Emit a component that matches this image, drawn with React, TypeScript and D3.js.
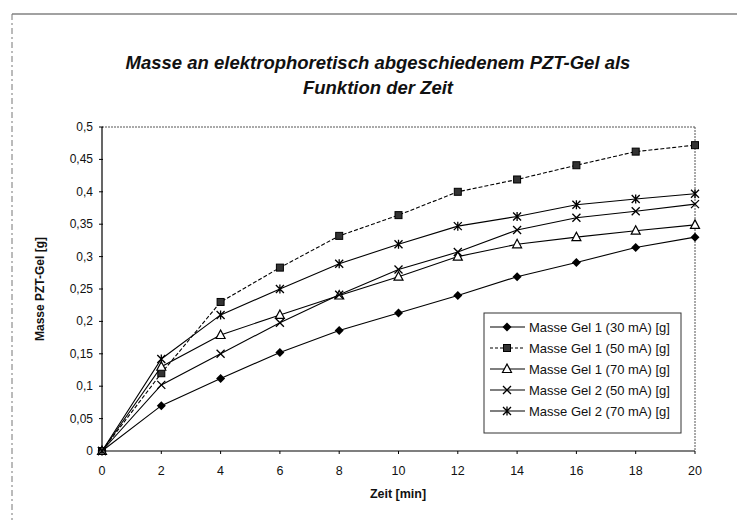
import React from "react";
import * as d3 from "d3";

// Zeit in Minuten
const zeit = [0, 2, 4, 6, 8, 10, 12, 14, 16, 18, 20];

// Masse in Gramm je Versuchsreihe
const gel1_30 = [0, 0.07, 0.112, 0.152, 0.186, 0.213, 0.24, 0.269, 0.291, 0.314, 0.33];
const gel1_50 = [0, 0.12, 0.23, 0.283, 0.332, 0.364, 0.4, 0.419, 0.441, 0.462, 0.472];
const gel1_70 = [0, 0.13, 0.179, 0.21, 0.24, 0.269, 0.3, 0.319, 0.33, 0.34, 0.349];
const gel2_50 = [0, 0.102, 0.15, 0.198, 0.241, 0.28, 0.307, 0.341, 0.36, 0.37, 0.381];
const gel2_70 = [0, 0.142, 0.21, 0.25, 0.289, 0.319, 0.347, 0.362, 0.38, 0.389, 0.397];

const seriesNames = [
  "Masse Gel 1 (30 mA) [g]",
  "Masse Gel 1 (50 mA) [g]",
  "Masse Gel 1 (70 mA) [g]",
  "Masse Gel 2 (50 mA) [g]",
  "Masse Gel 2 (70 mA) [g]",
];
const seriesValues = [gel1_30, gel1_50, gel1_70, gel2_50, gel2_70];
const markerTypes = ["diamond", "square", "triangle", "x", "star"];
const dashed = [false, true, false, false, false];

const yTicks = [0, 0.05, 0.1, 0.15, 0.2, 0.25, 0.3, 0.35, 0.4, 0.45, 0.5];
const xTicks = [0, 2, 4, 6, 8, 10, 12, 14, 16, 18, 20];

const W = 737;
const H = 532;
const plot = { left: 102, right: 695, top: 127, bottom: 451 };

const x = d3.scaleLinear().domain([0, 20]).range([plot.left, plot.right]);
const y = d3.scaleLinear().domain([0, 0.5]).range([plot.bottom, plot.top]);

const fmt = (v: number) => String(+v.toFixed(2)).replace(".", ",");

function Marker({ type, cx, cy }: { type: string; cx: number; cy: number }) {
  switch (type) {
    case "diamond":
      return (
        <path
          d={`M${cx},${cy - 4.5}L${cx + 4.5},${cy}L${cx},${cy + 4.5}L${cx - 4.5},${cy}Z`}
          fill="#000"
        />
      );
    case "square":
      return (
        <rect x={cx - 3.5} y={cy - 3.5} width={7} height={7} fill="#333" stroke="#000" strokeWidth={1} />
      );
    case "triangle":
      return (
        <path
          d={`M${cx},${cy - 5}L${cx + 4.5},${cy + 3.5}L${cx - 4.5},${cy + 3.5}Z`}
          fill="#fff"
          stroke="#000"
          strokeWidth={1.2}
        />
      );
    case "x":
      return (
        <path
          d={`M${cx - 4},${cy - 4}L${cx + 4},${cy + 4}M${cx - 4},${cy + 4}L${cx + 4},${cy - 4}`}
          stroke="#000"
          strokeWidth={1.3}
        />
      );
    default:
      return (
        <path
          d={`M${cx - 4},${cy - 4}L${cx + 4},${cy + 4}M${cx - 4},${cy + 4}L${cx + 4},${cy - 4}M${cx},${cy - 4.5}L${cx},${cy + 4.5}`}
          stroke="#000"
          strokeWidth={1.3}
        />
      );
  }
}

export default function App() {
  const line = d3
    .line<number>()
    .x((_, i) => x(zeit[i]))
    .y((d) => y(d));

  const font = "'Liberation Sans', Arial, sans-serif";
  const legend = { left: 484, top: 313, width: 197, height: 120 };
  const rowY = [327, 348, 369, 390, 411];

  return (
    <svg
      width={W}
      height={H}
      style={{ position: "absolute", left: 0, top: 0, background: "#fff" }}
      fontFamily={font}
    >
      <rect width={W} height={H} fill="#fff" />
      {/* outer frame */}
      <line x1={12} y1={14} x2={737} y2={14} stroke="#444" strokeWidth={1.2} />
      <line x1={12} y1={14} x2={12} y2={520} stroke="#777" strokeWidth={1} strokeDasharray="6,3,2,3" />

      {/* title */}
      <text x={378} y={69} textAnchor="middle" fontSize={18.5} fontWeight="bold" fontStyle="italic" fill="#111">
        Masse an elektrophoretisch abgeschiedenem PZT-Gel als
      </text>
      <text x={378} y={94} textAnchor="middle" fontSize={18.5} fontWeight="bold" fontStyle="italic" fill="#111">
        Funktion der Zeit
      </text>

      {/* plot border */}
      <line x1={plot.left} y1={plot.top} x2={plot.right} y2={plot.top} stroke="#555" strokeDasharray="2,1" />
      <line x1={plot.right} y1={plot.top} x2={plot.right} y2={plot.bottom} stroke="#555" strokeDasharray="2,1" />
      <line x1={plot.left} y1={plot.top} x2={plot.left} y2={plot.bottom} stroke="#000" strokeWidth={1.2} />
      <line x1={plot.left} y1={plot.bottom} x2={plot.right} y2={plot.bottom} stroke="#000" strokeWidth={1.2} />

      {/* y axis */}
      {yTicks.map((t) => (
        <g key={"y" + t}>
          <line x1={plot.left - 3} x2={plot.left + 1} y1={y(t)} y2={y(t)} stroke="#000" />
          <text x={93} y={y(t) + 4} textAnchor="end" fontSize={12} fill="#111">
            {fmt(t)}
          </text>
        </g>
      ))}
      {/* x axis */}
      {xTicks.map((t) => (
        <g key={"x" + t}>
          <line x1={x(t)} x2={x(t)} y1={plot.bottom} y2={plot.bottom + 3} stroke="#000" />
          <text x={x(t)} y={475} textAnchor="middle" fontSize={12.5} fill="#111">
            {t}
          </text>
        </g>
      ))}

      <text
        transform={`translate(44,${(plot.top + plot.bottom) / 2}) rotate(-90)`}
        textAnchor="middle"
        fontSize={12}
        fontWeight="bold"
        fill="#111"
      >
        Masse PZT-Gel [g]
      </text>
      <text x={398} y={498} textAnchor="middle" fontSize={12.5} fontWeight="bold" fill="#111">
        Zeit [min]
      </text>

      {/* series */}
      {seriesValues.map((vals, si) => (
        <g key={"s" + si}>
          <path
            d={line(vals) || ""}
            fill="none"
            stroke="#000"
            strokeWidth={1.1}
            strokeDasharray={dashed[si] ? "4,2" : undefined}
          />
          {vals.map((v, i) => (
            <Marker key={i} type={markerTypes[si]} cx={x(zeit[i])} cy={y(v)} />
          ))}
        </g>
      ))}

      {/* legend */}
      <rect
        x={legend.left}
        y={legend.top}
        width={legend.width}
        height={legend.height}
        fill="#fff"
        stroke="#333"
        strokeWidth={1}
      />
      {seriesNames.map((name, si) => (
        <g key={"l" + si}>
          <line
            x1={490}
            x2={525}
            y1={rowY[si]}
            y2={rowY[si]}
            stroke="#000"
            strokeWidth={1.1}
            strokeDasharray={dashed[si] ? "3,2" : undefined}
          />
          <Marker type={markerTypes[si]} cx={507} cy={rowY[si]} />
          <text x={529} y={rowY[si] + 4.5} fontSize={13} fill="#111">
            {name}
          </text>
        </g>
      ))}
    </svg>
  );
}
